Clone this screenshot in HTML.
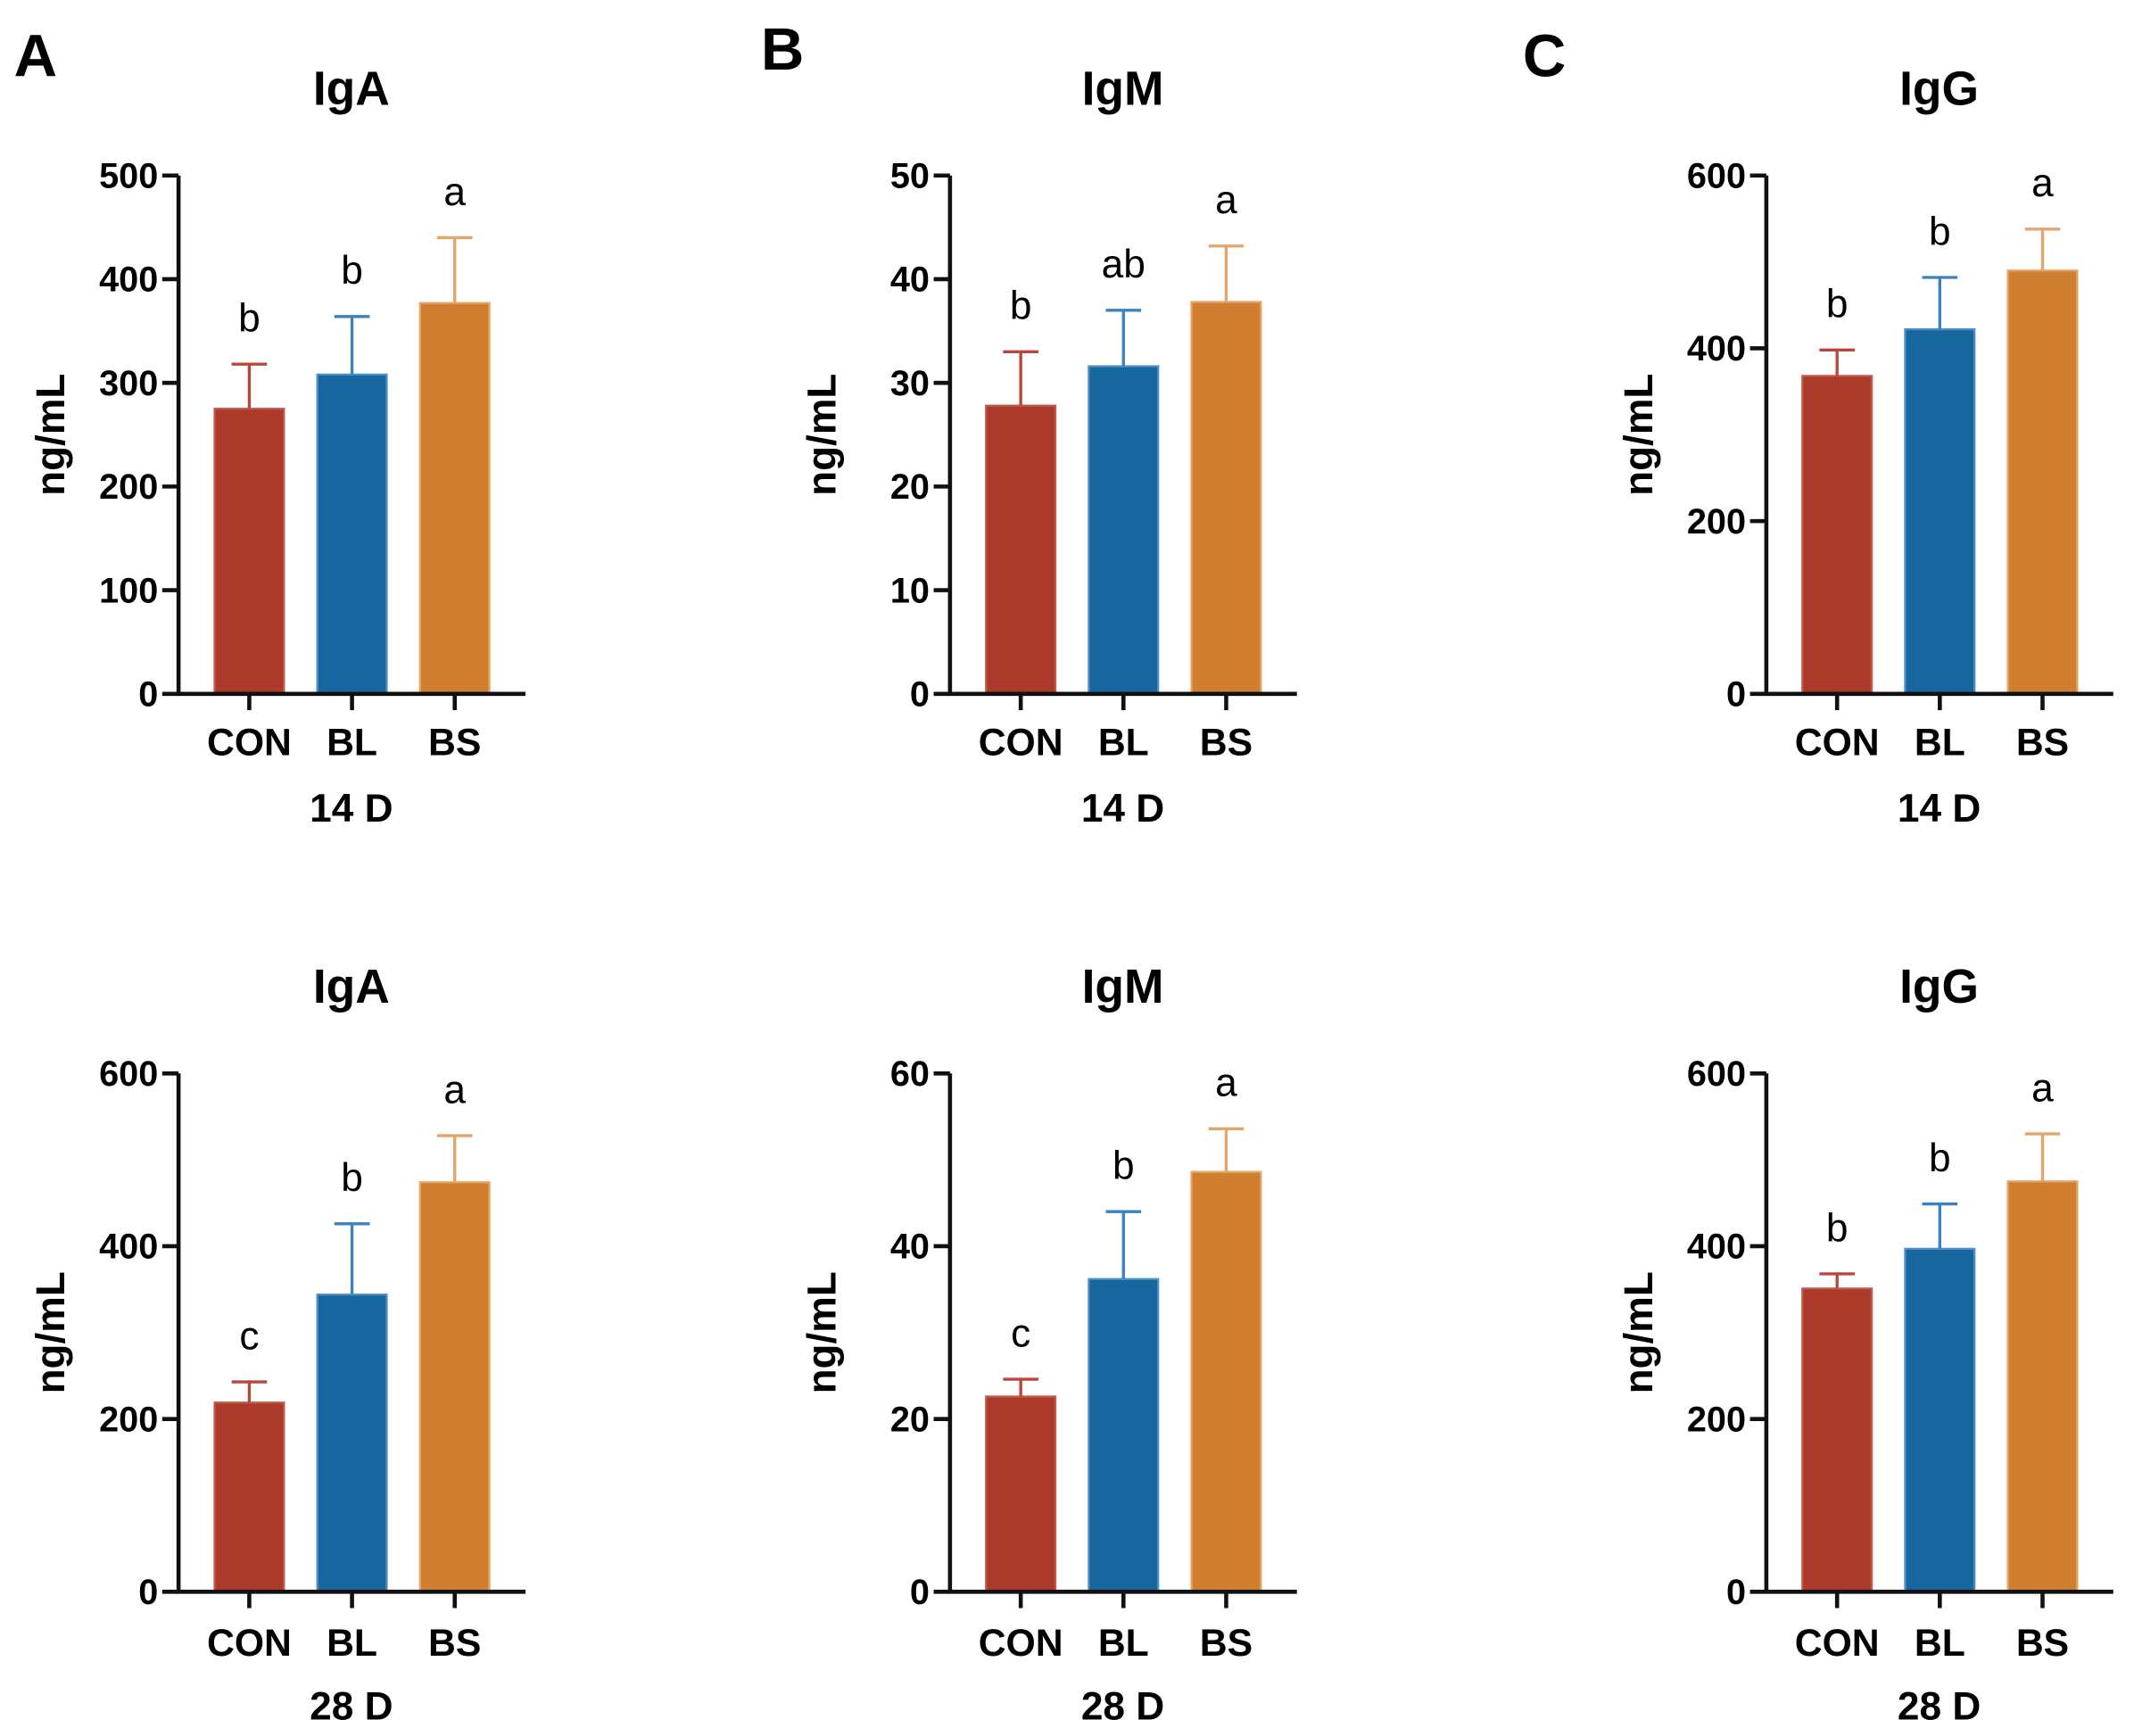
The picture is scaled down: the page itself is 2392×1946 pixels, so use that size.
<!DOCTYPE html>
<html><head><meta charset="utf-8"><style>
html,body{margin:0;padding:0;background:#fff;}
svg{display:block;font-family:"Liberation Sans",Arial,sans-serif;}
</style></head><body>
<svg id="fig" width="2392" height="1946" viewBox="0 0 1568 1276" xmlns="http://www.w3.org/2000/svg">
<text x="10" y="56" font-size="44" font-weight="bold">A</text>
<text x="559" y="51" font-size="44" font-weight="bold">B</text>
<text x="1119" y="56" font-size="44" font-weight="bold">C</text>
</svg>
<script>
const categories = ["CON","BL","BS"];
const titles = ["IgA","IgM","IgG","IgA","IgM","IgG"];
const days = ["14 D","14 D","14 D","28 D","28 D","28 D"];
const yMax = [500,50,600,600,60,600];
const yTicks = [[0,100,200,300,400,500],[0,10,20,30,40,50],[0,200,400,600],[0,200,400,600],[0,20,40,60],[0,200,400,600]];
const means = [[275,308,377],[27.8,31.6,37.8],[368,422,490],[219,344,474],[22.6,36.2,48.6],[351,397,475]];
const errTops = [[318,364,440],[33,37,43.2],[398,482,538],[243,426,528],[24.6,44,53.6],[368,449,530]];
const sigLetters = [["b","b","a"],["b","ab","a"],["b","b","a"],["c","b","a"],["c","b","a"],["b","b","a"]];

const NS="http://www.w3.org/2000/svg";
const svg=document.getElementById('fig');
const fill=["#AB3A2A","#17669E","#CF7F2F"];
const edge=["#C05A4C","#4E8FC6","#E6A566"];
const errc=["#B8473A","#3B82C0","#E3A56A"];
const axX=[131,698,1298];
const rows=[{top:129,bot:510,title:77,cat:555,day:604},{top:789,bot:1170,title:737,cat:1217,day:1264}];
function mk(tag,attrs,txt){const e=document.createElementNS(NS,tag);for(const k in attrs)e.setAttribute(k,attrs[k]);if(txt!==undefined)e.textContent=txt;svg.appendChild(e);return e;}
for(let p=0;p<6;p++){
  const col=p%3,row=rows[Math.floor(p/3)];
  const x0=axX[col],top=row.top,bot=row.bot;
  const y=v=>bot-(v/yMax[p])*(bot-top);
  const xc=i=>x0+52+i*75.5;
  const bw=51;
  const mid=x0+127;
  let t=mk('text',{x:mid,y:row.title,'font-size':35,'font-weight':'bold','text-anchor':'middle'},titles[p]);
  
  
  t=mk('text',{x:0,y:0,'font-size':30,'font-weight':'bold','text-anchor':'middle',transform:`translate(${x0-84},${(top+bot)/2}) rotate(-90)`},'ng/mL');
  
  
  yTicks[p].forEach(v=>{
    const l=mk('line',{x1:x0-12,x2:x0,y1:y(v),y2:y(v),stroke:'#111','stroke-width':3});
    
    
    const tx=mk('text',{x:x0-15,y:y(v)+9,'font-size':26,'font-weight':'bold','text-anchor':'end'},String(v));
    
    
  });
  categories.forEach((c,i)=>{
    const r=mk('rect',{x:xc(i)-bw/2,y:y(means[p][i]),width:bw,height:bot-y(means[p][i]),fill:fill[i],stroke:edge[i],'stroke-width':1.5});
    
    
    const e=mk('path',{d:`M${xc(i)},${y(means[p][i])}V${y(errTops[p][i])}M${xc(i)-13},${y(errTops[p][i])}H${xc(i)+13}`,stroke:errc[i],'stroke-width':2.2,fill:'none'});
    
    
    const s=mk('text',{x:xc(i),y:y(errTops[p][i])-24,'font-size':29,'text-anchor':'middle'},sigLetters[p][i]);
    
    
    const tk=mk('line',{x1:xc(i),x2:xc(i),y1:bot,y2:bot+12,stroke:'#111','stroke-width':3});
    
    
    const cl=mk('text',{x:xc(i),y:row.cat,'font-size':28,'font-weight':'bold','text-anchor':'middle'},c);
    
    
  });
  const ax=mk('path',{d:`M${x0},${top}V${bot}H${x0+255}`,stroke:'#111','stroke-width':3,fill:'none'});
  
  
  const d=mk('text',{x:mid,y:row.day,'font-size':29,'font-weight':'bold','text-anchor':'middle'},days[p]);
  
  
}
</script>
</body></html>
